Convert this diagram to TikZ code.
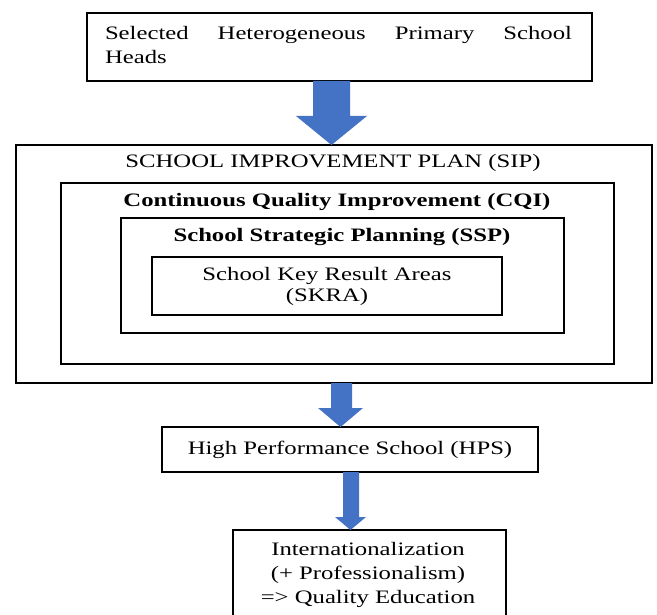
\documentclass[tikz,border=0pt]{standalone}
\usepackage{fontspec}
\setmainfont{Liberation Serif}[FakeStretch=1.3]
\usetikzlibrary{calc}
\definecolor{arrowblue}{HTML}{4472C4}
\begin{document}
\begin{tikzpicture}[x=1pt,y=-1pt,
  box/.style={draw, line width=1.3pt, inner sep=0pt, outer sep=0pt},
  txt/.style={inner sep=0pt, font=\fontsize{19}{24}\selectfont, align=center},
  blockarrow/.style={fill=arrowblue, draw=none}]
\useasboundingbox (0,0) rectangle (657,615);
% boxes
\node[box, minimum width=505pt, minimum height=68pt] (top) at (339.5,47) {};
\node[box, minimum width=636pt, minimum height=238pt] (sip) at (334,264) {};
\node[box, minimum width=553pt, minimum height=181pt] (cqi) at (337.5,273.5) {};
\node[box, minimum width=443pt, minimum height=115pt] (ssp) at (342.5,275.5) {};
\node[box, minimum width=350pt, minimum height=58pt, txt, font=\fontsize{19}{21}\selectfont] (skra) at (327,286) {School Key Result Areas\\(SKRA)};
\node[box, minimum width=376pt, minimum height=45pt, txt] (hps) at (350,449.5) {High Performance School (HPS)};
\node[box, minimum width=273pt, minimum height=90pt] (fin) at (369.5,575) {};
% texts
\node[txt, text width=467pt, align=left] (toptxt) at (338.5,45) {\hbox to 467pt{Selected\hfill Heterogeneous\hfill Primary\hfill School}\\Heads};
\node[txt] (siptxt) at (333,163) {SCHOOL IMPROVEMENT PLAN (SIP)};
\node[txt, font=\fontsize{19}{24}\selectfont\bfseries] (cqitxt) at (337,202) {Continuous Quality Improvement (CQI)};
\node[txt, font=\fontsize{19}{24}\selectfont\bfseries] (ssptxt) at (342,237) {School Strategic Planning (SSP)};
\node[txt, font=\fontsize{19}{24}\selectfont] (fintxt) at (368,575) {Internationalization\\(+ Professionalism)\\=> Quality Education};
% arrows
\fill[blockarrow] (313,0 |- top.south) -- (313,116) -- (296,116) -- (331.5,0 |- sip.north) -- (367,116) -- (350,116) -- (350,0 |- top.south) -- cycle;
\fill[blockarrow] (331,0 |- sip.south) -- (331,408) -- (318,408) -- (340.5,0 |- hps.north) -- (363,408) -- (352,408) -- (352,0 |- sip.south) -- cycle;
\fill[blockarrow] (343,0 |- hps.south) -- (343,517) -- (335,517) -- (350.5,0 |- fin.north) -- (366,517) -- (359,517) -- (359,0 |- hps.south) -- cycle;
\end{tikzpicture}
\end{document}
